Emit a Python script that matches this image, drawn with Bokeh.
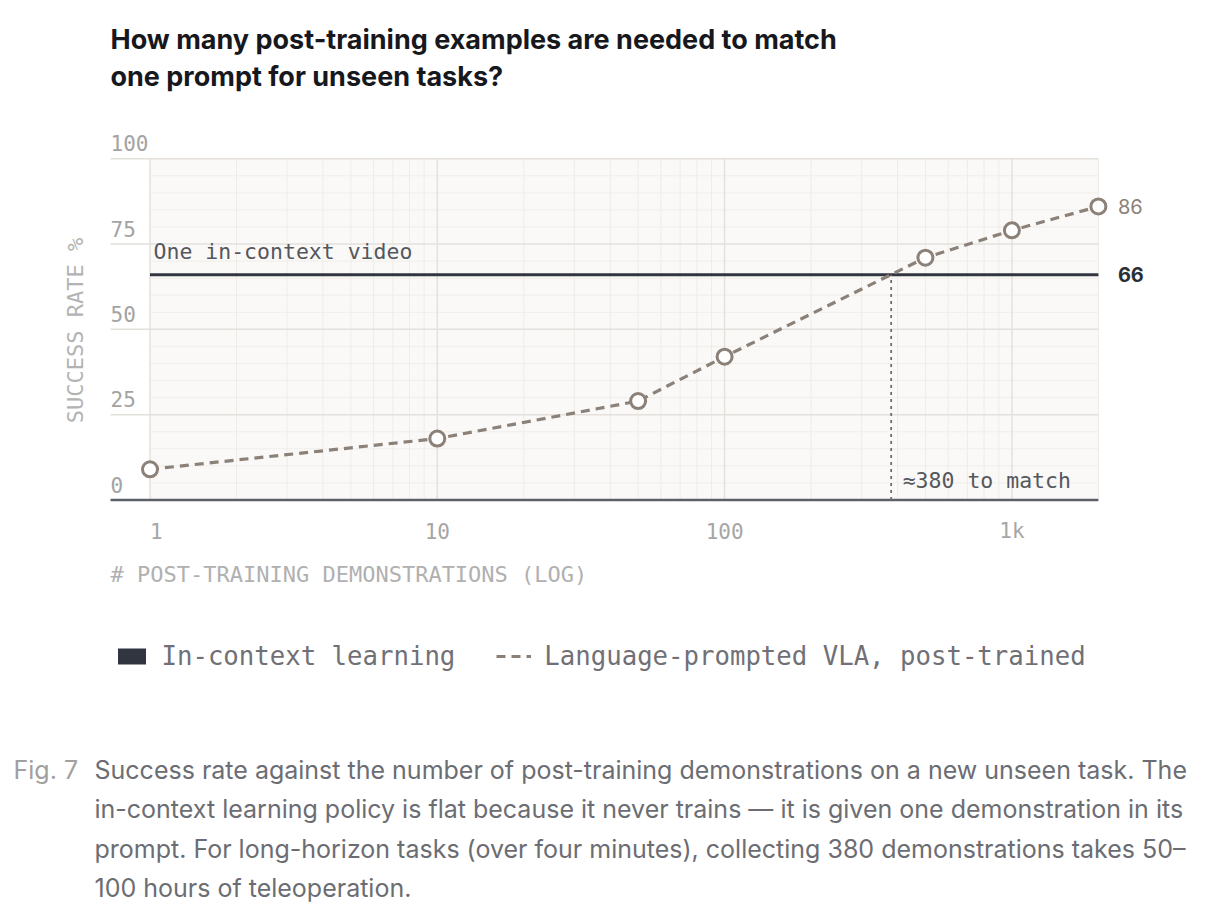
import math
from bokeh.plotting import figure
from bokeh.models import Label, Range1d, Legend, LegendItem
from bokeh.embed import file_html
from bokeh.resources import INLINE
from bokeh.core.properties import value

# ---------------- data ----------------
demos = [1, 10, 50, 100, 500, 1000, 2000]
vla_success = [9, 18, 29, 42, 71, 79, 86]
in_context_success = 66
match_demos = 380
x_ticks = [1, 10, 100, 1000]
x_tick_labels = ["1", "10", "100", "1k"]
y_ticks = [0, 25, 50, 75, 100]
y_tick_labels = ["0", "25", "50", "75", "100"]
series_names = ["In-context learning", "Language-prompted VLA, post-trained"]

title_lines = [
    "How many post-training examples are needed to match",
    "one prompt for unseen tasks?",
]
fig_label = "Fig. 7"
caption_lines = [
    "Success rate against the number of post-training demonstrations on a new unseen task. The",
    "in-context learning policy is flat because it never trains \u2014 it is given one demonstration in its",
    "prompt. For long-horizon tasks (over four minutes), collecting 380 demonstrations takes 50\u2013",
    "100 hours of teleoperation.",
]

# ---------------- layout constants (page pixels) ----------------
W, H = 1200, 902
PAGE = 0
X1_PX = 149.5      # page x of value 1
DEC_PX = 287.3     # pixels per decade
Y0_PX = 499.5      # page y of value 0
UNIT_PX = 3.413    # pixels per percentage point
LEFT_PX = 110      # left edge of gridline extension / tick labels

MONO = "DejaVu Sans Mono"
SANS = "Inter"

def x_at(px):
    return 10 ** ((px - X1_PX) / DEC_PX)

def y_at(py):
    return (Y0_PX - py) / UNIT_PX

p = figure(width=W, height=H, x_axis_type="log",
           x_range=Range1d(x_at(PAGE), x_at(PAGE + W)),
           y_range=Range1d(y_at(PAGE + H), y_at(PAGE)),
           x_axis_location=None, y_axis_location=None,
           toolbar_location=None, output_backend="svg", min_border=0,
           title=None)
p.grid.visible = False
p.outline_line_color = None
p.background_fill_color = "white"
p.border_fill_color = "white"

x_lo, x_hi = demos[0], demos[-1]
y_lo, y_hi = y_ticks[0], y_ticks[-1]

# plot area background
p.quad(left=[x_lo], right=[x_hi], bottom=[y_lo], top=[y_hi],
       fill_color="#faf9f7", line_color=None)

# minor grid
minor_x = [m * 10 ** k for k in range(4) for m in range(2, 10) if m * 10 ** k <= x_hi]
p.segment(x0=minor_x, y0=y_lo, x1=minor_x, y1=y_hi, line_color="#efece8", line_width=1)
minor_y = [v for v in range(5, 100, 5) if v % 25]
p.segment(x0=x_lo, y0=minor_y, x1=x_hi, y1=minor_y, line_color="#f0eeea", line_width=1)
# major grid
p.segment(x0=x_ticks, y0=y_lo, x1=x_ticks, y1=y_hi, line_color="#e4e1dc", line_width=1.5)
p.segment(x0=x_at(LEFT_PX), y0=y_ticks[1:], x1=x_hi, y1=y_ticks[1:],
          line_color="#e3e0dc", line_width=1.5)
# x axis line
p.segment(x0=[x_at(LEFT_PX)], y0=[y_lo], x1=[x_hi], y1=[y_lo],
          line_color="#5d6068", line_width=2.5)

# in-context reference line
ic = p.hbar(y=[in_context_success], left=[x_lo], right=[x_hi], height=3.0 / UNIT_PX,
            fill_color="#30353f", line_color=None)

# crossing marker
p.segment(x0=[match_demos], y0=[y_lo], x1=[match_demos], y1=[in_context_success],
          line_color="#6d6d73", line_width=1.8, line_dash="3 4")

# VLA series
vl = p.line(demos, vla_success, line_color="#8b8178", line_width=3.2, line_dash="9 6")
p.scatter(demos, vla_success, size=15, fill_color="white", line_color="#8b8178",
          line_width=3)

# tick labels
p.text(x=x_ticks[0], y=y_ticks, text=y_tick_labels, x_offset=LEFT_PX - X1_PX, y_offset=-15.5,
       text_font=value(MONO), text_font_size="21px", text_color="#a3a3a3",
       text_align="left", text_baseline="middle")
p.text(x=x_ticks[:1], y=y_lo, text=x_tick_labels[:1], y_offset=31,
       text_font=value(MONO), text_font_size="21px", text_color="#a6a6a6",
       text_align="left", text_baseline="middle")
p.text(x=x_ticks[1:], y=y_lo, text=x_tick_labels[1:], y_offset=31,
       text_font=value(MONO), text_font_size="21px", text_color="#a6a6a6",
       text_align="center", text_baseline="middle")

# annotations
p.text(x=[x_lo], y=[in_context_success], text=["One in-context video"],
       x_offset=3.5, y_offset=-23, text_font=value(MONO), text_font_size="21.5px",
       text_color="#55575e", text_align="left", text_baseline="middle")
p.text(x=[match_demos], y=[y_lo], text=["\u2248%d to match" % match_demos],
       x_offset=11.5, y_offset=-20, text_font=value(MONO), text_font_size="21.5px",
       text_color="#55575e", text_align="left", text_baseline="middle")
p.text(x=[x_hi], y=[vla_success[-1]], text=[str(vla_success[-1])], x_offset=19.5,
       text_font=value(SANS), text_font_size="20px", text_color="#8b8178",
       text_align="left", text_baseline="middle")
p.text(x=[x_hi], y=[in_context_success], text=[str(in_context_success)], x_offset=19.5,
       text_font=value(SANS), text_font_size="20px", text_font_style="bold",
       text_color="#2a2e36", text_align="left", text_baseline="middle")

def lab(text, px, py, **kw):
    return Label(x=px - PAGE, y=H - (py - PAGE), x_units="screen", y_units="screen",
                 text=text, text_baseline="middle", **kw)

# title
for t, cy in zip(title_lines, [38.5, 75.5]):
    p.add_layout(lab(t, 110, cy, text_font=SANS, text_font_size="27px",
                     text_font_style="bold", text_color="#16181d"))

# axis titles
p.add_layout(lab("# POST-TRAINING DEMONSTRATIONS (LOG)", 110, 574, text_font=MONO,
                 text_font_size="22px", text_color="#b0b0b0"))
p.add_layout(lab("SUCCESS RATE %", 75, 330, text_font=MONO, text_font_size="22px",
                 text_color="#b3b3b3", text_align="center", angle=math.pi / 2))

# legend
legend = Legend(items=[LegendItem(label=series_names[0], renderers=[ic]),
                       LegendItem(label=series_names[1], renderers=[vl])],
                orientation="horizontal", location=(113.5 - PAGE, H - (671 - PAGE)),
                border_line_color=None, background_fill_alpha=0,
                padding=0, margin=0, spacing=41, label_standoff=13,
                glyph_width=35, glyph_height=20, label_height=20,
                label_text_font=MONO, label_text_font_size="25.7px",
                label_text_color="#707076")
p.add_layout(legend)

# caption
p.add_layout(lab(fig_label, 13, 769, text_font=SANS, text_font_size="25px",
                 text_color="#a0a0a0"))
for t, cy in zip(caption_lines, [769, 808.5, 848, 887.5]):
    p.add_layout(lab(t, 94, cy, text_font=SANS, text_font_size="25px",
                     text_color="#6b6d73"))

open("out.html", "w").write(file_html(p, INLINE))
